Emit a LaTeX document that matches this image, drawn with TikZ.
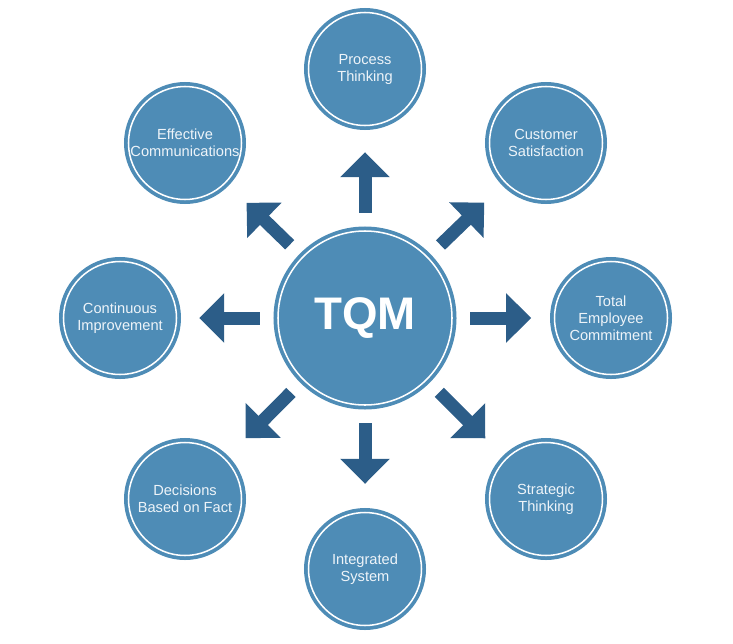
\documentclass[tikz,border=0pt]{standalone}
\usepackage{fontspec}
\setmainfont{Liberation Sans}
\usetikzlibrary{positioning,arrows.meta}

\definecolor{tqmblue}{HTML}{4E8CB6}
\definecolor{arrowblue}{HTML}{2C5D88}
\definecolor{labelwhite}{HTML}{EEF4F9}

\tikzset{
  ring/.style={circle,fill=tqmblue,draw=white,line width=1.3pt,inner sep=0pt,outer sep=0pt,
    preaction={draw=tqmblue,line width=0.27cm}},
  pillar/.style={ring,minimum size=3.39cm,text=labelwhite,align=center,
    font=\fontsize{12.5pt}{14.5pt}\selectfont},
  spoke/.style={draw=arrowblue,line width=0.39cm,shorten <=0.54cm,
    -{Triangle[width=1.44cm,length=0.75cm]}}
}

\begin{document}
\begin{tikzpicture}[x=0.03cm,y=-0.03cm]
                    \useasboundingbox (0,0) rectangle (733,643);
                    \node[ring,minimum size=5.22cm,text=white,font=\fontsize{39pt}{39pt}\bfseries\selectfont] (tqm) at (365,318) {TQM};
                    \node[pillar] (process) at (365,69) {Process\\Thinking};
                    \node[pillar] (customer) at (546,143) {Customer\\Satisfaction};
                    \node[pillar] (employee) at (611,318) {Total\\Employee\\Commitment};
                    \node[pillar] (strategic) at (546,499) {Strategic\\Thinking};
                    \node[pillar] (integrated) at (365,569) {Integrated\\System};
                    \node[pillar] (decisions) at (185,499) {Decisions\\Based on Fact};
                    \node[pillar] (continuous) at (120,318) {Continuous\\Improvement};
                    \node[pillar] (communications) at (185,143) {Effective\\Communications};
                    \draw[spoke,shorten >=0.8cm] (tqm) -- (process);
                    \draw[spoke,shorten >=0.88cm] (tqm) -- (customer);
                    \draw[spoke,shorten >=0.7cm] (tqm) -- (employee);
                    \draw[spoke,shorten >=0.88cm] (tqm) -- (strategic);
                    \draw[spoke,shorten >=0.86cm] (tqm) -- (integrated);
                    \draw[spoke,shorten >=0.88cm] (tqm) -- (decisions);
                    \draw[spoke,shorten >=0.68cm] (tqm) -- (continuous);
                    \draw[spoke,shorten >=0.88cm] (tqm) -- (communications);
                \end{tikzpicture}
\end{document}
